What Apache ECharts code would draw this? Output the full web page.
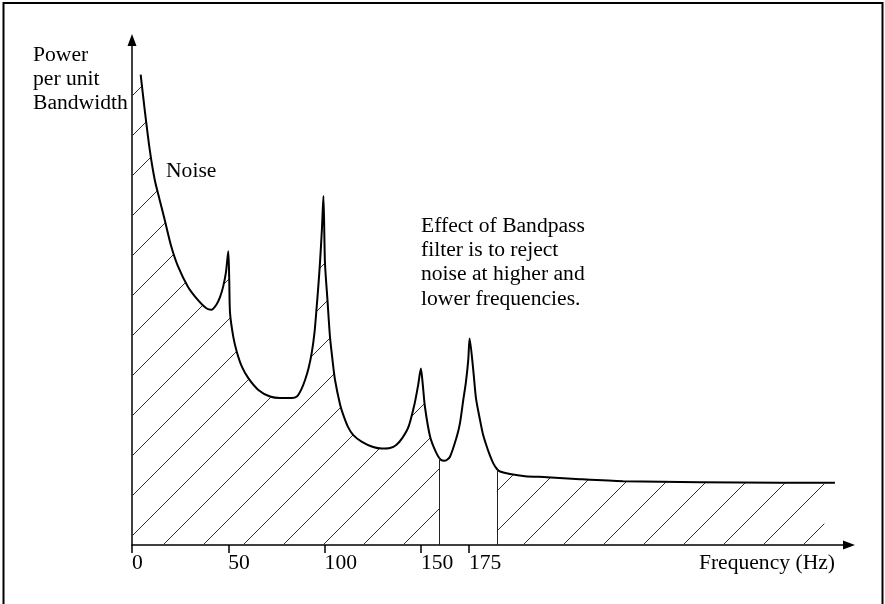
<!DOCTYPE html>
<html><head><meta charset="utf-8">
<script src="https://cdn.jsdelivr.net/npm/echarts@6/dist/echarts.min.js"></script>
<style>html,body{margin:0;padding:0;background:#fff}#c{width:885px;height:604px}</style>
</head><body><div id="c"></div>
<script>
// ---- data ----
const freqHz = [4.5, 6.6, 9.2, 11.8, 14.4, 17.0, 20.4, 23.9, 29.1, 34.3,
  38.6, 41.2, 43.8, 45.7, 47.3, 48.8, 50.0, 50.5, 50.9, 52.6,
  54.4, 57.0, 60.4, 65.6, 71.7, 76.9, 83.0, 85.6, 87.8, 89.9,
  91.7, 93.3, 94.8, 95.9, 96.8, 97.6, 98.6, 99.4, 100.2, 101.5,
  102.8, 104.1, 105.4, 108.0, 109.7, 112.2, 114.8, 119.4, 125.2, 129.8,
  134.0, 137.2, 140.4, 143.6, 146.8, 148.6, 150.0, 151.0, 152.1, 154.8,
  157.7, 160.3, 162.5, 165.1, 168.6, 170.3, 172.0, 173.4, 174.6, 175.3,
  177.2, 178.6, 180.7, 182.3, 184.2, 185.9, 187.6, 189.5, 191.1, 196.3,
  204.1, 215.5, 232.6, 255.0, 294.9, 336.5, 365.0];
const power = [92.2, 85.3, 77.5, 71.6, 67.6, 63.7, 58.5, 54.6, 50.6, 48.0,
  46.4, 46.1, 47.1, 48.6, 50.6, 53.5, 57.6, 51.8, 45.5, 40.8,
  37.9, 35.0, 32.7, 30.4, 29.1, 28.8, 28.8, 29.1, 30.4, 32.4,
  34.7, 37.6, 41.8, 46.7, 51.0, 55.3, 61.8, 68.4, 55.3, 48.0,
  40.8, 36.3, 32.4, 27.6, 25.5, 23.1, 21.6, 20.2, 19.2, 18.9,
  19.0, 19.6, 21.0, 23.2, 27.8, 31.4, 34.6, 31.4, 27.1, 21.2,
  18.3, 16.7, 16.5, 17.3, 21.2, 23.9, 28.4, 32.0, 36.3, 40.5,
  34.3, 28.8, 24.5, 21.6, 19.3, 17.5, 16.0, 14.9, 14.4, 13.9,
  13.5, 13.3, 12.9, 12.5, 12.3, 12.2, 12.2];
const tickValues = [0, 50, 100, 150, 175];
const passband = [159.6, 189.4];
const hatchEnd = 359.5;
const yAxisTitle = ['Power', 'per unit', 'Bandwidth'];
const noiseLabel = 'Noise';
const noteLines = ['Effect of Bandpass', 'filter is to reject', 'noise at higher and', 'lower frequencies.'];
const xAxisTitle = 'Frequency (Hz)';

// ---- helpers ----
const pts = freqHz.map((f, i) => [f, power[i]]);
function valueAt(h) {
  for (let i = 0; i < pts.length - 1; i++) {
    if (pts[i][0] <= h && pts[i + 1][0] >= h) {
      const t = (h - pts[i][0]) / (pts[i + 1][0] - pts[i][0]);
      return pts[i][1] + t * (pts[i + 1][1] - pts[i][1]);
    }
  }
  return pts[pts.length - 1][1];
}
const leftArea = [[0, pts[0][1]]].concat(pts.filter(p => p[0] < passband[0]), [[passband[0], valueAt(passband[0])]]);
const rightArea = [[passband[1], valueAt(passband[1])]].concat(pts.filter(p => p[0] > passband[1] && p[0] < hatchEnd), [[hatchEnd, valueAt(hatchEnd)]]);

function hatchCanvas() {
  const s = 40, c = document.createElement('canvas');
  c.width = s; c.height = s;
  const g = c.getContext('2d');
  g.strokeStyle = '#333'; g.lineWidth = 1;
  const off = 28;
  for (let k = -1; k <= 2; k++) {
    const C = off + s * k;
    g.beginPath(); g.moveTo(-10, C + 10); g.lineTo(C + 10, -10); g.stroke();
  }
  return c;
}
const pattern = { image: hatchCanvas(), repeat: 'repeat' };
const FONT = '21.6px "Liberation Serif", "Times New Roman", serif';
const SM = 0.25;

const chart = echarts.init(document.getElementById('c'), null, { renderer: 'canvas' });
chart.setOption({
  animation: false,
  backgroundColor: '#fff',
  grid: { left: 132, right: 36, top: 40, bottom: 59 },
  xAxis: {
    type: 'value', min: 0, max: 372.3,
    axisLine: { show: true, lineStyle: { color: '#000', width: 1.5 }, symbol: ['none', 'triangle'], symbolSize: [9, 12] },
    axisTick: { show: true, customValues: tickValues, length: 8, lineStyle: { color: '#000', width: 1.5 } },
    axisLabel: { show: true, customValues: tickValues, align: 'left', verticalAlign: 'top', lineHeight: 24, margin: 6,
      color: '#000', fontSize: 21.6, fontFamily: '"Liberation Serif", "Times New Roman", serif' },
    splitLine: { show: false }
  },
  yAxis: {
    type: 'value', min: 0, max: 99,
    axisLine: { show: true, lineStyle: { color: '#000', width: 1.5 }, symbol: ['none', 'triangle'], symbolSize: [9, 12] },
    axisTick: { show: false }, axisLabel: { show: false }, splitLine: { show: false }
  },
  series: [
    { type: 'line', data: leftArea, symbol: 'none', smooth: SM, lineStyle: { width: 0 },
      areaStyle: { color: pattern, opacity: 1 }, z: 1, silent: true },
    { type: 'line', data: rightArea, symbol: 'none', smooth: SM, lineStyle: { width: 0 },
      areaStyle: { color: pattern, opacity: 1 }, z: 1, silent: true },
    { type: 'line', data: pts, symbol: 'none', smooth: SM, lineStyle: { color: '#000', width: 2 }, z: 3, silent: true,
      markLine: { silent: true, symbol: ['none', 'none'], label: { show: false },
        lineStyle: { color: '#222', width: 1, type: 'solid' },
        data: passband.map(h => [{ coord: [h, 0] }, { coord: [h, valueAt(h)] }]) } }
  ],
  graphic: [
    { type: 'rect', shape: { x: 3.5, y: 3, width: 879, height: 700 }, style: { fill: 'none', stroke: '#000', lineWidth: 2 }, silent: true },
    { type: 'text', x: 33, y: 43, style: { text: yAxisTitle.join('\n'), font: FONT, fill: '#000', lineHeight: 24, textAlign: 'left', textVerticalAlign: 'top' } },
    { type: 'text', x: 166, y: 159, style: { text: noiseLabel, font: FONT, fill: '#000', lineHeight: 24, textAlign: 'left', textVerticalAlign: 'top' } },
    { type: 'text', x: 421, y: 214, style: { text: noteLines.join('\n'), font: FONT, fill: '#000', lineHeight: 24.3, textAlign: 'left', textVerticalAlign: 'top' } },
    { type: 'text', x: 835, y: 551, style: { text: xAxisTitle, font: FONT, fill: '#000', lineHeight: 24, textAlign: 'right', textVerticalAlign: 'top' } }
  ]
});
</script></body></html>
